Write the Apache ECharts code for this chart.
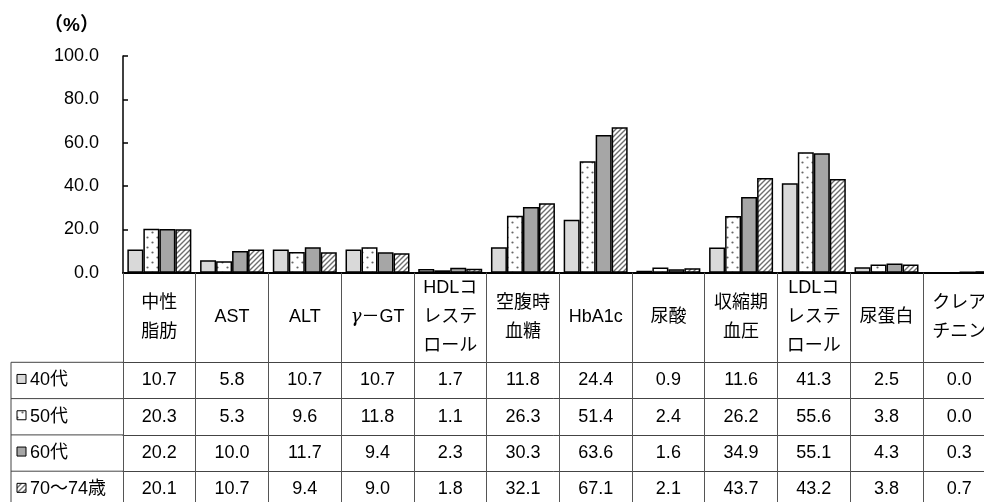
<!DOCTYPE html>
<html>
<head>
<meta charset="utf-8">
<script src="https://cdn.jsdelivr.net/npm/echarts@6/dist/echarts.min.js"></script>
<style>html,body{margin:0;padding:0;background:#fff;}#c{width:984px;height:502px;}</style>
</head>
<body>
<div id="c"></div>
<script>
// ---- data ----
const categories = ['中性\n脂肪','AST','ALT','γ－GT','HDLコ\nレステ\nロール','空腹時\n血糖','HbA1c','尿酸','収縮期\n血圧','LDLコ\nレステ\nロール','尿蛋白','クレア\nチニン'];
const seriesNames = ['40代','50代','60代','70～74歳'];
const v40 = [10.7, 5.8, 10.7, 10.7, 1.7, 11.8, 24.4, 0.9, 11.6, 41.3, 2.5, 0.0];
const v50 = [20.3, 5.3, 9.6, 11.8, 1.1, 26.3, 51.4, 2.4, 26.2, 55.6, 3.8, 0.0];
const v60 = [20.2, 10.0, 11.7, 9.4, 2.3, 30.3, 63.6, 1.6, 34.9, 55.1, 4.3, 0.3];
const v70 = [20.1, 10.7, 9.4, 9.0, 1.8, 32.1, 67.1, 2.1, 43.7, 43.2, 3.8, 0.7];
const yMin = 0, yMax = 100, yInterval = 20;
const yUnit = '（%）';

// ---- layout ----
const FONT = "'Liberation Sans', 'Noto Sans CJK JP', sans-serif";
const GRID_LEFT = 123, GRID_TOP = 56, GRID_BOTTOM = 229.3, GRID_WIDTH = 872.6;
const AXIS_Y = 502 - GRID_BOTTOM;
const HEADER_H = 89.6, ROW_H = 36.3;
const LEG_LEFT = 11;

function makeDots() {
  const w = 10, h = 10;
  const c = document.createElement('canvas'); c.width = w; c.height = h;
  const g = c.getContext('2d');
  g.fillStyle = '#fff'; g.fillRect(0, 0, w, h);
  g.fillStyle = '#666';
  g.beginPath(); g.arc(2.5, 2.5, 1.1, 0, Math.PI * 2); g.fill();
  g.beginPath(); g.arc(7.5, 7.5, 1.1, 0, Math.PI * 2); g.fill();
  return c;
}
function makeHatch() {
  const s = 5;
  const c = document.createElement('canvas'); c.width = s; c.height = s;
  const g = c.getContext('2d');
  g.fillStyle = '#fff'; g.fillRect(0, 0, s, s);
  g.strokeStyle = '#6e6e6e'; g.lineWidth = 1.4;
  g.beginPath();
  g.moveTo(-1, s + 1); g.lineTo(s + 1, -1);
  g.moveTo(-1, 1); g.lineTo(1, -1);
  g.moveTo(s - 1, s + 1); g.lineTo(s + 1, s - 1);
  g.stroke();
  return c;
}
const fills = [
  '#d9d9d9',
  { image: makeDots(), repeat: 'repeat' },
  '#a6a6a6',
  { image: makeHatch(), repeat: 'repeat' }
];
const rows = [v40, v50, v60, v70];

const chart = echarts.init(document.getElementById('c'), null, { renderer: 'canvas' });

const xAxes = [{
  type: 'category',
  data: categories,
  gridIndex: 0,
  position: 'bottom',
  axisLine: { show: true, lineStyle: { color: '#000', width: 2 } },
  axisTick: { show: true, interval: 0, length: 240, lineStyle: { color: '#555', width: 1 } },
  axisLabel: {
    interval: 0, margin: HEADER_H / 2, verticalAlign: 'middle', align: 'center',
    fontFamily: FONT, fontSize: 18, color: '#000', lineHeight: 29, hideOverlap: false,
    formatter: v => v.indexOf('γ') >= 0 ? v.replace('γ', '{g|γ}') : v,
    rich: { g: { fontFamily: "'DejaVu Serif', serif", fontStyle: 'italic', fontSize: 18, color: '#000' } }
  },
  splitLine: { show: false }
}];
rows.forEach((r, i) => {
  xAxes.push({
    type: 'category',
    data: categories,
    gridIndex: 0,
    position: 'bottom',
    offset: HEADER_H + ROW_H * i,
    axisLine: { show: true, lineStyle: { color: '#444', width: 1 } },
    axisTick: { show: false },
    axisLabel: {
      interval: 0, margin: ROW_H / 2, verticalAlign: 'middle', align: 'center',
      fontFamily: FONT, fontSize: 18, color: '#000',
      formatter: (val, idx) => r[idx].toFixed(1)
    },
    splitLine: { show: false }
  });
});

const graphics = [];
graphics.push({ type: 'line', shape: { x1: LEG_LEFT, y1: AXIS_Y + HEADER_H, x2: LEG_LEFT, y2: 520 }, style: { stroke: '#444', lineWidth: 1 } });
rows.forEach((r, i) => {
  const top = AXIS_Y + HEADER_H + ROW_H * i;
  graphics.push({ type: 'line', shape: { x1: LEG_LEFT, y1: top, x2: GRID_LEFT, y2: top }, style: { stroke: '#444', lineWidth: 1 } });
  const cy = top + ROW_H / 2;
  graphics.push({ type: 'rect', shape: { x: 17, y: cy - 6, width: 9, height: 9 }, style: { fill: fills[i], stroke: '#000', lineWidth: 1 } });
  graphics.push({ type: 'text', x: 30, y: cy, style: { text: seriesNames[i], font: '18px ' + FONT, fill: '#000', verticalAlign: 'middle', align: 'left' } });
});

const series = rows.map((r, i) => ({
  name: seriesNames[i],
  type: 'bar',
  xAxisIndex: 0,
  yAxisIndex: 0,
  data: r,
  barGap: '0%',
  barCategoryGap: '12%',
  itemStyle: { color: fills[i], borderColor: '#000', borderWidth: 1.5 },
  emphasis: { disabled: true },
  animation: false
}));

chart.setOption({
  animation: false,
  backgroundColor: '#fff',
  grid: { left: GRID_LEFT, top: GRID_TOP, width: GRID_WIDTH, bottom: GRID_BOTTOM, containLabel: false, outerBoundsMode: 'none' },
  xAxis: xAxes,
  yAxis: {
    type: 'value',
    min: yMin, max: yMax, interval: yInterval,
    name: yUnit,
    nameLocation: 'end',
    nameGap: 30,
    nameTextStyle: { fontFamily: FONT, fontSize: 19, fontWeight: 'bold', color: '#000', align: 'right', verticalAlign: 'middle', padding: [0, 24, 0, 0] },
    axisLine: { show: true, lineStyle: { color: '#000', width: 1.5 } },
    axisTick: { show: true, inside: true, length: 5, lineStyle: { color: '#000', width: 1.5 } },
    axisLabel: { fontFamily: FONT, fontSize: 18, color: '#000', margin: 24, formatter: v => v.toFixed(1) },
    splitLine: { show: false }
  },
  series: series,
  graphic: graphics
});
</script>
</body>
</html>
